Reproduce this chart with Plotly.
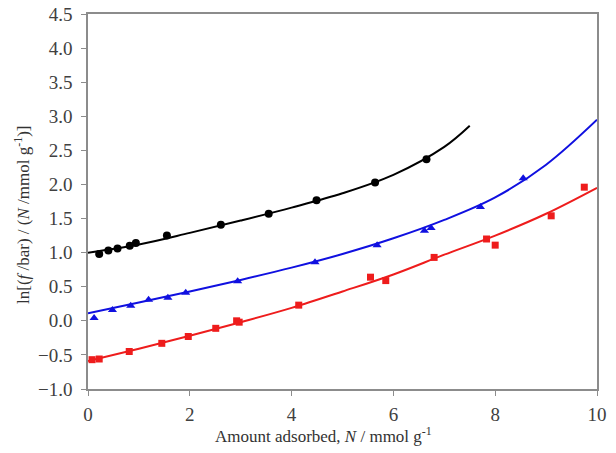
import plotly.graph_objects as go

# Data points
black_x = [0.22, 0.40, 0.58, 0.82, 0.94, 1.55, 2.61, 3.55, 4.49, 5.64, 6.65]
black_y = [0.98, 1.03, 1.06, 1.10, 1.14, 1.25, 1.41, 1.57, 1.77, 2.03, 2.37]

blue_x = [0.12, 0.48, 0.84, 1.19, 1.57, 1.92, 2.94, 4.46, 5.68, 6.61, 6.74, 7.71, 8.55]
blue_y = [0.04, 0.16, 0.22, 0.31, 0.34, 0.41, 0.58, 0.86, 1.11, 1.32, 1.36, 1.67, 2.09]

red_x = [0.08, 0.22, 0.81, 1.45, 1.97, 2.51, 2.92, 2.97, 4.14, 5.55, 5.85, 6.80, 7.83, 8.00, 9.10, 9.75]
red_y = [-0.57, -0.56, -0.45, -0.33, -0.23, -0.11, 0.00, -0.02, 0.23, 0.64, 0.59, 0.93, 1.20, 1.11, 1.54, 1.96]

# Fitted curves
black_fit_x = [0, 1, 2, 3, 4, 5, 6, 7, 7.5]
black_fit_y = [1.00, 1.12, 1.29, 1.47, 1.66, 1.87, 2.14, 2.55, 2.86]

blue_fit_x = [0, 1, 2, 3, 4, 5, 6, 7, 8, 9, 10]
blue_fit_y = [0.11, 0.27, 0.43, 0.60, 0.78, 0.98, 1.21, 1.48, 1.81, 2.29, 2.95]

red_fit_x = [0, 1, 2, 3, 4, 5, 6, 7, 8, 9, 10]
red_fit_y = [-0.59, -0.41, -0.22, -0.02, 0.19, 0.43, 0.68, 0.97, 1.25, 1.57, 1.95]

x_ticks = [0, 2, 4, 6, 8, 10]
y_ticks = [-1.0, -0.5, 0.0, 0.5, 1.0, 1.5, 2.0, 2.5, 3.0, 3.5, 4.0, 4.5]

x_title = "Amount adsorbed, <i>N</i> / mmol g<sup>-1</sup>"
y_title = "ln[(<i>f</i> /bar) / (<i>N</i> /mmol g<sup>-1</sup>)]"

BLACK = "#000000"
BLUE = "#1010e0"
RED = "#ee1c1c"
FONT = "'Liberation Serif', 'Times New Roman', serif"

fig = go.Figure()
for fx, fy, c in [(black_fit_x, black_fit_y, BLACK), (blue_fit_x, blue_fit_y, BLUE), (red_fit_x, red_fit_y, RED)]:
    fig.add_trace(go.Scatter(x=fx, y=fy, mode="lines", line=dict(color=c, width=2, shape="spline", smoothing=1.0),
                             showlegend=False, hoverinfo="skip"))

fig.add_trace(go.Scatter(x=black_x, y=black_y, mode="markers",
                         marker=dict(symbol="circle", size=8, color=BLACK), showlegend=False))
fig.add_trace(go.Scatter(x=blue_x, y=blue_y, mode="markers",
                         marker=dict(symbol="triangle-up", size=8, color=BLUE), showlegend=False))
fig.add_trace(go.Scatter(x=red_x, y=red_y, mode="markers",
                         marker=dict(symbol="square", size=7, color=RED), showlegend=False))

axis_common = dict(showgrid=False, zeroline=False, showline=True, linecolor="#8c8c8c", linewidth=1.5,
                   ticks="outside", ticklen=5, tickcolor="#8c8c8c", mirror=True, automargin=False,
                   tickfont=dict(family=FONT, size=19, color="#404040"))

title_font = dict(family=FONT, size=17, color="#333333")

fig.update_layout(
    width=616, height=453,
    margin=dict(l=88, r=19, t=14, b=64),
    paper_bgcolor="white", plot_bgcolor="white",
    font=dict(family=FONT, color="#333333"),
    xaxis=dict(range=[0, 10], tickvals=x_ticks, ticklabelstandoff=2, **axis_common),
    yaxis=dict(range=[-1.0, 4.5], tickvals=y_ticks, tickformat=".1f", ticklabelstandoff=5, **axis_common),
    annotations=[
        dict(text=x_title, xref="paper", yref="paper", x=(323 - 88) / 509, y=-(435 - 389) / 375,
             xanchor="center", yanchor="middle", showarrow=False, font=title_font),
        dict(text=y_title, xref="paper", yref="paper", x=-(88 - 22) / 509, y=(389 - 215) / 375,
             xanchor="center", yanchor="middle", showarrow=False, textangle=-90, font=title_font),
    ],
)

fig.write_html("out.html", config={"displayModeBar": False},
               post_script="document.body.style.margin='0';document.body.style.overflow='hidden';")
